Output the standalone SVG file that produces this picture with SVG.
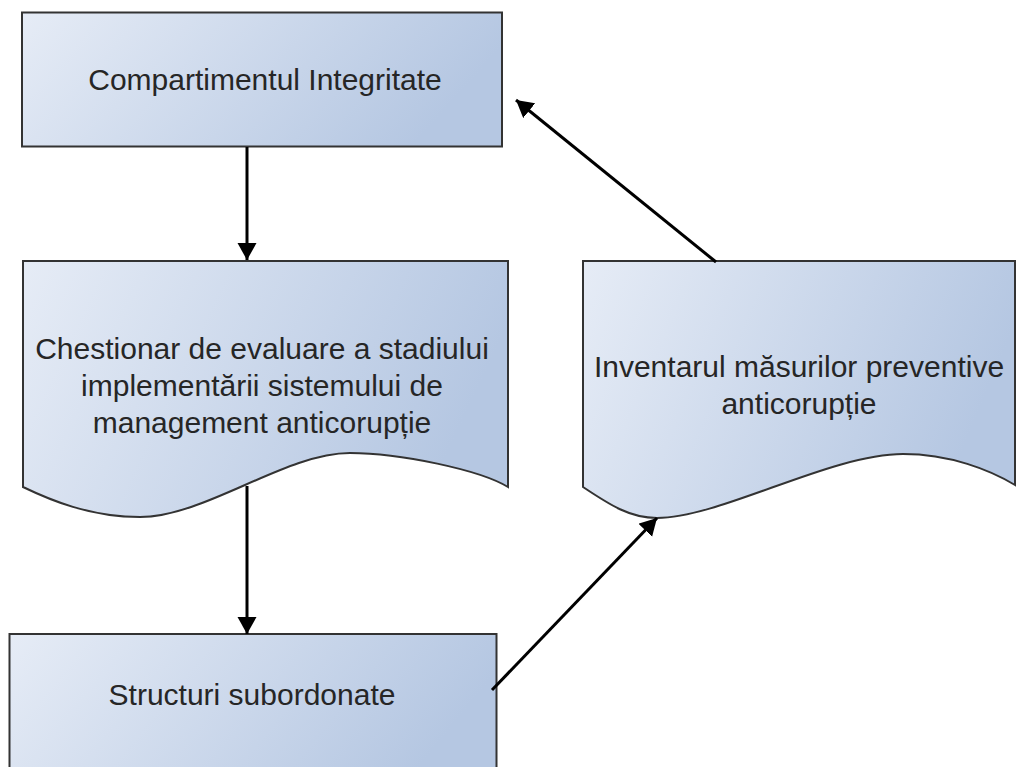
<svg xmlns="http://www.w3.org/2000/svg" width="1017" height="767" viewBox="0 0 1017 767">
  <style>
    .box { fill: url(#fillGrad); stroke: #333333; stroke-width: 2; }
    .label { font-family: "Liberation Sans", Arial, sans-serif; font-size: 30px; fill: #262626; text-anchor: middle; }
    .edge { stroke: #000000; stroke-width: 3; fill: none; marker-end: url(#arrow); }
  </style>
  <defs>
    <linearGradient id="fillGrad" x1="0" y1="0" x2="1" y2="0.25">
      <stop offset="0" stop-color="#e6ecf6"/>
      <stop offset="1" stop-color="#b5c7e2"/>
    </linearGradient>
    <marker id="arrow" markerUnits="userSpaceOnUse" markerWidth="18" markerHeight="20" refX="17" refY="9.5" orient="auto">
      <path d="M0,0 L17,9.5 L0,19 z" fill="#000000"/>
    </marker>
  </defs>

  <!-- process: integrity department -->
  <g id="compartimentul">
    <rect class="box" x="22" y="12.5" width="480" height="134"/>
    <text class="label" x="265" y="90">Compartimentul Integritate</text>
  </g>

  <!-- document: questionnaire -->
  <g id="chestionar">
    <path class="box" d="M23,261 H508 V487 C480,470 400,453 350,453 C285,453 205,517 140,517 C90,517 50,500 23,487 Z"/>
    <text class="label" x="262" y="359">Chestionar de evaluare a stadiului</text>
    <text class="label" x="262" y="396">implementării sistemului de</text>
    <text class="label" x="262" y="433">management anticorupție</text>
  </g>

  <!-- document: inventory of preventive measures -->
  <g id="inventarul">
    <path class="box" d="M583,261 H1015 V485 C990,470 950,454 903,454 C830,454 720,518 657,518 C630,518 610,505 583,487 Z"/>
    <text class="label" x="799" y="377">Inventarul măsurilor preventive</text>
    <text class="label" x="799" y="414">anticorupție</text>
  </g>

  <!-- process: subordinate structures -->
  <g id="structuri">
    <rect class="box" x="9.5" y="634" width="487" height="150"/>
    <text class="label" x="252" y="705">Structuri subordonate</text>
  </g>

  <!-- flow connectors -->
  <g id="connectors">
    <line class="edge" x1="247" y1="147" x2="247" y2="260"/>
    <line class="edge" x1="247" y1="486" x2="247" y2="634"/>
    <line class="edge" x1="492" y1="690" x2="657" y2="518"/>
    <line class="edge" x1="716" y1="262" x2="516" y2="100"/>
  </g>
</svg>
